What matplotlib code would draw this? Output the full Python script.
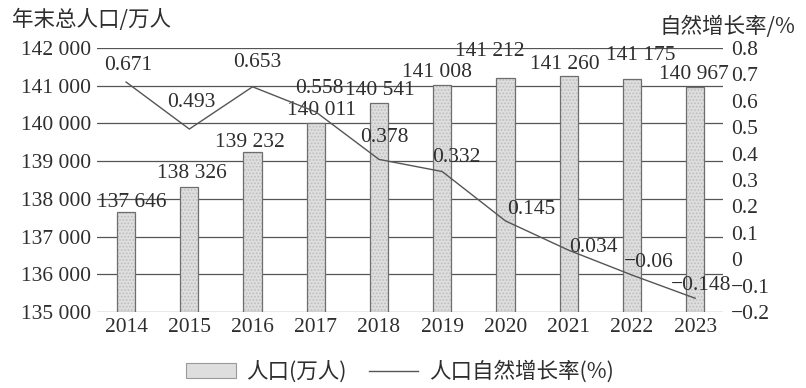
import matplotlib
matplotlib.use('Agg')
import matplotlib.pyplot as plt
from matplotlib.patches import Patch
from matplotlib.lines import Line2D
import numpy as np

# data
years = ['2014', '2015', '2016', '2017', '2018', '2019', '2020', '2021', '2022', '2023']
population = [137646, 138326, 139232, 140011, 140541, 141008, 141212, 141260, 141175, 140967]
pop_labels = ['137 646', '138 326', '139 232', '140 011', '140 541',
              '141 008', '141 212', '141 260', '141 175', '140 967']
growth = [0.671, 0.493, 0.653, 0.558, 0.378, 0.332, 0.145, 0.034, -0.06, -0.148]
growth_labels = ['0.671', '0.493', '0.653', '0.558', '0.378', '0.332', '0.145', '0.034', '\u22120.06', '\u22120.148']
left_ticks = [135000, 136000, 137000, 138000, 139000, 140000, 141000, 142000]
left_ticklabels = ['135 000', '136 000', '137 000', '138 000', '139 000', '140 000', '141 000', '142 000']
right_ticks = [-0.2, -0.1, 0, 0.1, 0.2, 0.3, 0.4, 0.5, 0.6, 0.7, 0.8]
right_ticklabels = ['\u22120.2', '\u22120.1', '0', '0.1', '0.2', '0.3', '0.4', '0.5', '0.6', '0.7', '0.8']

# label offsets in pixels (dx, dy) - tuned by eye
bar_off = [(6, 10), (3, 13), (-3, 10), (6, 13), (1, 13), (-5, 13), (-16, 26), (-4, 11), (9, 24), (-1, 12)]
line_off = [(2, 17), (2, 27), (5, 24), (4, 23), (5, 22), (14, 14), (26, 11), (25, 3), (17, 13), (6, 13)]

serif = ['Liberation Serif', 'DejaVu Serif']
cjk = ['Noto Sans CJK SC', 'DejaVu Sans']
fs = 15.5
txt = '#2e2e2e'
plt.rcParams['hatch.color'] = '#bdbdbd'
plt.rcParams['hatch.linewidth'] = 0.8

fig = plt.figure(figsize=(8.06, 3.88), dpi=100)
ax = fig.add_axes([97/806, 1-312/388, (723-97)/806, (312-48)/388])
x = np.arange(len(years))
heights = [p - 135000 for p in population]

# stipple fill first, then the dark outline on top
ax.bar(x, heights, bottom=135000, width=0.29, color='#dedede', hatch='.....', linewidth=0, zorder=3)
ax.bar(x, heights, bottom=135000, width=0.29, fill=False, edgecolor='#6e6e6e', linewidth=0.9, zorder=3)
ax.set_ylim(135000, 142000)
ax.set_xlim(-0.46, 9.44)
ax.set_yticks(left_ticks)
ax.set_yticklabels(left_ticklabels, fontfamily=serif, fontsize=fs)
ax.set_xticks(x)
ax.set_xticklabels(years, fontfamily=serif, fontsize=fs)
ax.tick_params(length=0, pad=4, colors=txt)
ax.grid(axis='y', color='#555555', linewidth=0.9, zorder=0)
for s in ax.spines.values():
    s.set_visible(False)

for i, (p, lab) in enumerate(zip(population, pop_labels)):
    ax.annotate(lab, (i, p), xytext=bar_off[i], textcoords='offset pixels',
                ha='center', va='center', fontfamily=serif, fontsize=fs, color=txt, zorder=5)

ax2 = ax.twinx()
ax2.plot(x, growth, color='#555555', linewidth=1.0, zorder=4)
ax2.set_ylim(-0.2, 0.8)
ax2.set_yticks(right_ticks)
ax2.set_yticklabels(right_ticklabels, fontfamily=serif, fontsize=fs)
ax2.tick_params(length=0, pad=6, colors=txt)
for s in ax2.spines.values():
    s.set_visible(False)

for i, (g, lab) in enumerate(zip(growth, growth_labels)):
    ax2.annotate(lab, (i, g), xytext=line_off[i], textcoords='offset pixels',
                 ha='center', va='center', fontfamily=serif, fontsize=fs, color=txt)

fig.text(12/806, 1-20/388, '年末总人口/万人', fontfamily=cjk, fontsize=fs, color=txt,
         ha='left', va='center')
fig.text(795/806, 1-27/388, '自然增长率/%', fontfamily=cjk, fontsize=fs, color=txt,
         ha='right', va='center')

handles = [Patch(facecolor='#dedede', edgecolor='#9a9a9a', linewidth=0.8),
           Line2D([0], [0], color='#555555', linewidth=1.0)]
fig.legend(handles, ['人口(万人)', '人口自然增长率(%)'], loc='center', bbox_to_anchor=(400/806, 1-372/388),
           ncol=2, frameon=False, prop={'family': cjk, 'size': fs}, handlelength=2.3,
           handletextpad=0.5, columnspacing=1.0, labelcolor=txt)

fig.savefig('out.png', dpi=100)
